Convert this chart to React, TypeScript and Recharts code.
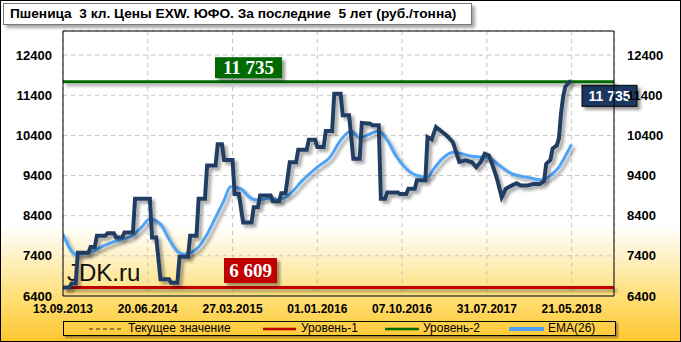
import React from 'react';
import { LineChart, Line, XAxis, YAxis, CartesianGrid, ReferenceLine, Legend } from 'recharts';

const tickWeeks = [0, 40, 80, 120, 160, 200, 240];
const tickLabels = ['13.09.2013', '20.06.2014', '27.03.2015', '01.01.2016', '07.10.2016', '31.07.2017', '21.05.2018'];
const yTicks = [6400, 7400, 8400, 9400, 10400, 11400, 12400];

const priceWeeks = [
  0, 3, 4, 6, 7, 12, 13, 15,
  16, 20, 21, 24, 25, 28, 29, 33,
  34, 41, 42, 44, 46, 50, 51, 54,
  55, 59, 60, 63, 64, 67, 68, 72,
  73, 75, 76, 80, 81, 83, 85, 89,
  90, 92, 93, 98, 99, 102, 103, 105,
  107, 110, 111, 115, 116, 119, 120, 123,
  124, 127, 128, 131, 132, 135, 137, 140,
  141, 145, 146, 149, 150, 152, 153, 158,
  159, 162, 163, 166, 167, 171, 172, 174,
  176, 181, 184, 186, 187, 190, 193, 195,
  197, 199, 201, 203, 205, 207, 209, 211,
  214, 216, 219, 222, 225, 227, 228, 230,
  231, 233, 234, 235, 236, 237, 239, 240,
];
const priceValues = [
  6610, 6610, 6710, 6710, 7480, 7480, 7620, 7620,
  7900, 7900, 7960, 7960, 7860, 7860, 7980, 7980,
  8820, 8820, 7860, 7860, 6820, 6820, 6730, 6730,
  7380, 7380, 7900, 7900, 8820, 8820, 9650, 9650,
  10180, 10180, 9790, 9790, 8940, 8940, 8230, 8230,
  8610, 8610, 8900, 8900, 8760, 8760, 8960, 8960,
  9730, 9730, 10040, 10040, 10290, 10290, 10110, 10110,
  10510, 10510, 11440, 11440, 10900, 10900, 9820, 9820,
  10710, 10690, 10650, 10650, 8820, 8820, 8980, 8980,
  8940, 8940, 9070, 9070, 9280, 9280, 10360, 10300,
  10610, 10400, 10230, 9900, 9740, 9780, 9730, 9610,
  9730, 9940, 9900, 9610, 9280, 8860, 9070, 9130,
  9210, 9150, 9150, 9190, 9190, 9260, 9690, 9790,
  10070, 10150, 10320, 10940, 11360, 11610, 11735, 11735,
];

const emaWeeks = [
  0, 6, 11, 16, 22, 28, 32, 37, 41, 46,
  50, 54, 57, 63, 68, 72, 76, 79, 84, 88,
  92, 98, 102, 107, 113, 120, 126, 131, 136, 140,
  145, 149, 153, 157, 162, 167, 172, 175, 179, 184,
  193, 201, 206, 212, 219, 226, 230, 234, 238, 240,
];
const emaValues = [
  7940, 7440, 7460, 7570, 7710, 7820, 7880, 8110, 8320, 8190,
  7820, 7510, 7440, 7570, 7940, 8360, 8780, 9120, 9070, 8860,
  8790, 8840, 8800, 8940, 9280, 9610, 9860, 10280, 10510, 10340,
  10440, 10510, 10280, 9900, 9570, 9400, 9360, 9570, 9820, 9980,
  9880, 9840, 9650, 9440, 9360, 9290, 9400, 9610, 9980, 10175,
];

const level1 = 6609;
const level2 = 11735;
const currentValue = 11735;

const fmt = (v: number) => {
  const s = String(Math.round(v));
  return s.length > 3 ? s.slice(0, s.length - 3) + ' ' + s.slice(s.length - 3) : s;
};

const priceData = priceWeeks.map((w, i) => ({ w, price: priceValues[i] }));
const emaData = emaWeeks.map((w, i) => ({ w, ema: emaValues[i] }));

const BoxLabel = (props: any) => {
  const { viewBox, mode, value, fill, fontFamily, fontSize } = props;
  if (!viewBox) return null;
  const y = viewBox.y;
  let x0 = 0, y0 = 0, w = 0, h = 0;
  if (mode === 'green') { w = 67; h = 21; x0 = viewBox.x + 185.5 - w / 2; y0 = y - 24.6; }
  else if (mode === 'red') { w = 53; h = 25; x0 = viewBox.x + 187.5 - w / 2; y0 = y - 29.6; }
  else { w = 55; h = 21; x0 = viewBox.x + viewBox.width - 32; y0 = y + 3.5; }
  return (
    <g>
      <rect x={x0} y={y0} width={w} height={h} fill={fill} stroke={mode === 'navy' ? '#000' : 'none'} strokeWidth={1} filter="url(#boxShadow)" />
      <text x={x0 + w / 2} y={y0 + h / 2} textAnchor="middle" dominantBaseline="central" fill="#fff"
        fontFamily={fontFamily} fontWeight="bold" fontSize={fontSize}>{fmt(value)}</text>
    </g>
  );
};

const LegendBox = () => {
  const items = [
    { x0: 88 - 63, x1: 120 - 63, tx: 127 - 63, color: '#333', w: 1, dash: '4 3', label: 'Текущее значение' },
    { x0: 262 - 63, x1: 295 - 63, tx: 300 - 63, color: '#C00000', w: 2.5, dash: undefined, label: 'Уровень-1' },
    { x0: 384 - 63, x1: 418 - 63, tx: 422 - 63, color: '#006A00', w: 2.5, dash: undefined, label: 'Уровень-2' },
    { x0: 508 - 63, x1: 543 - 63, tx: 547 - 63, color: '#4DA3F5', w: 4, dash: undefined, label: 'EMA(26)' },
  ];
  return (
    <div style={{ position: 'relative', width: 553, height: 15, border: '1px solid #000', boxSizing: 'border-box', boxShadow: '2px 2px 2px rgba(0,0,0,0.35)' }}>
      <svg width={553} height={15} style={{ position: 'absolute', left: 0, top: 0 }}>
        {items.map((it, i) => (
          <line key={i} x1={it.x0} x2={it.x1} y1={7} y2={7} stroke={it.color} strokeWidth={it.w} strokeDasharray={it.dash} />
        ))}
      </svg>
      {items.map((it, i) => (
        <span key={i} style={{ position: 'absolute', left: it.tx, top: -1, fontFamily: 'Liberation Sans', fontSize: 12, lineHeight: '15px', color: '#000', whiteSpace: 'nowrap' }}>{it.label}</span>
      ))}
    </div>
  );
};

export default function App() {
  return (
    <div style={{ position: 'absolute', left: 0, top: 0, width: 681, height: 342, overflow: 'hidden',
      background: 'linear-gradient(to bottom, #ffffff 0%, #ffffff 66%, #FFF0C0 76%, #FFDD70 88%, #FDC62E 100%)' }}>
      <style>{`
        .shadow-line .recharts-curve, .shadow-line line { filter: url(#lineShadow); }
      `}</style>
      <svg width={0} height={0} style={{ position: 'absolute' }}>
        <defs>
          <filter id="lineShadow" filterUnits="userSpaceOnUse" x={0} y={0} width={700} height={360}>
            <feDropShadow dx={3} dy={3} stdDeviation={1.5} floodColor="#000" floodOpacity={0.35} />
          </filter>
          <filter id="boxShadow" filterUnits="userSpaceOnUse" x={0} y={0} width={700} height={360}>
            <feDropShadow dx={3} dy={3} stdDeviation={1.5} floodColor="#000" floodOpacity={0.4} />
          </filter>
        </defs>
      </svg>
      <div style={{ position: 'absolute', left: 67, top: 259, fontFamily: 'Liberation Sans', fontSize: 24, color: '#111' }}>JDK.ru</div>
      <div style={{ position: 'absolute', left: 0, top: 0 }}>
        <LineChart width={681} height={342} margin={{ top: 31, right: 0, bottom: 0, left: 0 }}>
          <CartesianGrid yAxisId="l" stroke="#c4c4c4" strokeDasharray="4 4" />
          <XAxis type="number" dataKey="w" domain={[0, 260]} ticks={tickWeeks} interval={0} allowDataOverflow
            tickFormatter={(v: number) => tickLabels[tickWeeks.indexOf(v)] ?? ''}
            axisLine={{ stroke: '#000' }} tickLine={false} tickSize={0} tickMargin={8} height={46}
            tick={{ fill: '#000', fontFamily: 'Liberation Sans', fontWeight: 'bold', fontSize: 12 }} />
          <YAxis yAxisId="l" domain={[6400, 13000]} ticks={yTicks} interval={0} width={63} allowDataOverflow
            axisLine={{ stroke: '#000' }} tickLine={false} tickSize={0} tickMargin={11}
            tick={{ fill: '#000', fontFamily: 'Liberation Sans', fontWeight: 'bold', fontSize: 13 }} />
          <YAxis yAxisId="r" orientation="right" domain={[6400, 13000]} ticks={yTicks} interval={0} width={67} allowDataOverflow
            axisLine={{ stroke: '#000' }} tickLine={false} tickSize={0} tickMargin={13}
            tick={{ fill: '#000', fontFamily: 'Liberation Sans', fontWeight: 'bold', fontSize: 13, textAnchor: 'start' }} />
          <ReferenceLine yAxisId="l" y={13000} stroke="#000" strokeWidth={1} />
          <ReferenceLine yAxisId="l" y={currentValue} stroke="#333" strokeDasharray="4 3" strokeWidth={1}
            label={<BoxLabel mode="navy" value={currentValue} fill="#1C3860" fontFamily="Liberation Sans" fontSize={14} />} />
          <ReferenceLine yAxisId="l" y={level2} stroke="#006A00" strokeWidth={3} className="shadow-line"
            label={<BoxLabel mode="green" value={level2} fill="#006A00" fontFamily="Liberation Serif" fontSize={19} />} />
          <ReferenceLine yAxisId="l" y={level1} stroke="#C00000" strokeWidth={3} className="shadow-line"
            label={<BoxLabel mode="red" value={level1} fill="#C00000" fontFamily="Liberation Serif" fontSize={19} />} />
          <Line yAxisId="l" data={emaData} dataKey="ema" type="monotone" stroke="#4DA3F5" strokeWidth={3} dot={false}
            isAnimationActive={false} className="shadow-line" name="EMA(26)" />
          <Line yAxisId="l" data={priceData} dataKey="price" type="linear" stroke="#233E63" strokeWidth={4} dot={false}
            isAnimationActive={false} className="shadow-line" name="Цена" />
          <Legend layout="horizontal" verticalAlign="middle" align="center"
            wrapperStyle={{ position: 'absolute', left: 63, top: 321, width: 553, height: 15 }}
            content={() => <LegendBox />} />
        </LineChart>
      </div>
      <div style={{ position: 'absolute', left: 3, top: 3, width: 469, height: 22, boxSizing: 'border-box', border: '1px solid #777',
        background: '#fff', boxShadow: '3px 3px 3px rgba(0,0,0,0.35)', fontFamily: 'Liberation Sans', fontWeight: 'bold', fontSize: 13.7,
        lineHeight: '20px', paddingLeft: 6, whiteSpace: 'pre', color: '#000' }}>
        {'Пшеница  3 кл. Цены EXW. ЮФО. За последние  5 лет (руб./тонна)'}
      </div>
      <div style={{ position: 'absolute', left: 0, top: 0, width: 681, height: 342, boxSizing: 'border-box', border: '1px solid #000', pointerEvents: 'none' }} />
    </div>
  );
}
